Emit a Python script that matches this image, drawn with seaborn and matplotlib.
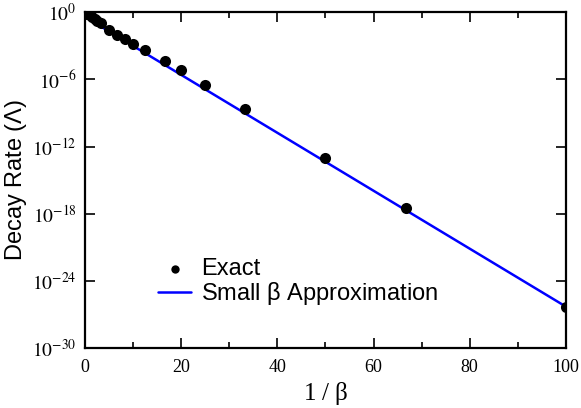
import numpy as np
import pandas as pd
import matplotlib
matplotlib.use('Agg')
import matplotlib.pyplot as plt
import matplotlib.ticker as mticker
import seaborn as sns

# values
inv_beta = [0.1, 0.25, 0.5, 0.75, 1.0, 1.5, 2.0, 2.5, 3.33, 5.0, 6.67, 8.33,
            10.0, 12.5, 16.67, 20.0, 25.0, 33.33, 50.0, 66.67, 100.0]
exact_rate = [9.5e-1, 8.9e-1, 7.6e-1, 6.3e-1, 5.2e-1, 3.5e-1, 2.5e-1, 1.8e-1,
              1.0e-1, 2.8e-2, 1.0e-2, 4.0e-3, 1.4e-3, 4.0e-4, 4.0e-5, 6.3e-6,
              3.2e-7, 2.2e-9, 1.0e-13, 3.5e-18, 5.0e-27]
approx_x = [1.0, 100.0]
approx_rate = [2.1e-1, 5.0e-27]

exact = pd.DataFrame({'x': inv_beta, 'rate': exact_rate})
approx = pd.DataFrame({'x': approx_x, 'rate': approx_rate})

sns.set_style('ticks', {'axes.edgecolor': 'black', 'xtick.color': 'black',
                        'ytick.color': 'black', 'text.color': 'black',
                        'axes.labelcolor': 'black'})
plt.rcParams['mathtext.fontset'] = 'stix'
plt.rcParams['font.family'] = ['Liberation Sans', 'DejaVu Sans']

fig = plt.figure(figsize=(5.81, 4.08), dpi=100)
ax = fig.add_axes([0.1463, 0.147, 0.8277, 0.823])

sns.lineplot(data=approx, x='x', y='rate', ax=ax, color='#0000ff', lw=1.8,
             label=r'Small $\mathregular{\beta}$ Approximation', zorder=2)
sns.scatterplot(data=exact, x='x', y='rate', ax=ax, color='black', s=64,
                edgecolor='black', linewidth=0, label='Exact', zorder=3)

ax.set_yscale('log')
ax.set_xlim(0, 100)
ax.set_ylim(1e-30, 1e0)
ax.set_xticks(np.arange(0, 101, 20))
ax.xaxis.set_minor_locator(mticker.MultipleLocator(10))
ax.set_yticks([10.0 ** k for k in range(-30, 1, 6)])
ax.yaxis.set_minor_locator(mticker.NullLocator())
ax.yaxis.set_major_formatter(mticker.FuncFormatter(
    lambda v, p: r'$10^{%d}$' % round(np.log10(v))))
ax.xaxis.set_major_formatter(mticker.FuncFormatter(lambda v, p: '%d' % v))

ax.tick_params(which='both', direction='in', top=True, right=True, width=1.2,
               colors='black')
ax.tick_params(axis='x', labelsize=13, pad=8)
ax.tick_params(axis='y', labelsize=14, pad=6)
ax.tick_params(which='major', length=7)
ax.tick_params(which='minor', length=4)
for lab in ax.get_xticklabels() + ax.get_yticklabels():
    lab.set_family('Liberation Serif')
for sp in ax.spines.values():
    sp.set_linewidth(1.6)
    sp.set_color('black')

ax.set_xlabel(r'1 / $\mathregular{\beta}$', family='Liberation Serif',
              fontsize=18, labelpad=3)
ax.set_ylabel(r'Decay Rate ($\mathregular{\Lambda}$)', fontsize=17)
ax.yaxis.set_label_coords((29 - 85) / 481, 0.5)

handles, labels = ax.get_legend_handles_labels()
ax.legend(handles[::-1], labels[::-1], loc='upper left',
          bbox_to_anchor=(158 / 581, 1 - 258 / 408),
          bbox_transform=fig.transFigure, frameon=False, fontsize=17,
          handlelength=1.4, handletextpad=0.42, labelspacing=0.0,
          borderpad=0, borderaxespad=0, markerscale=0.75)

fig.savefig('out.png', dpi=100)
